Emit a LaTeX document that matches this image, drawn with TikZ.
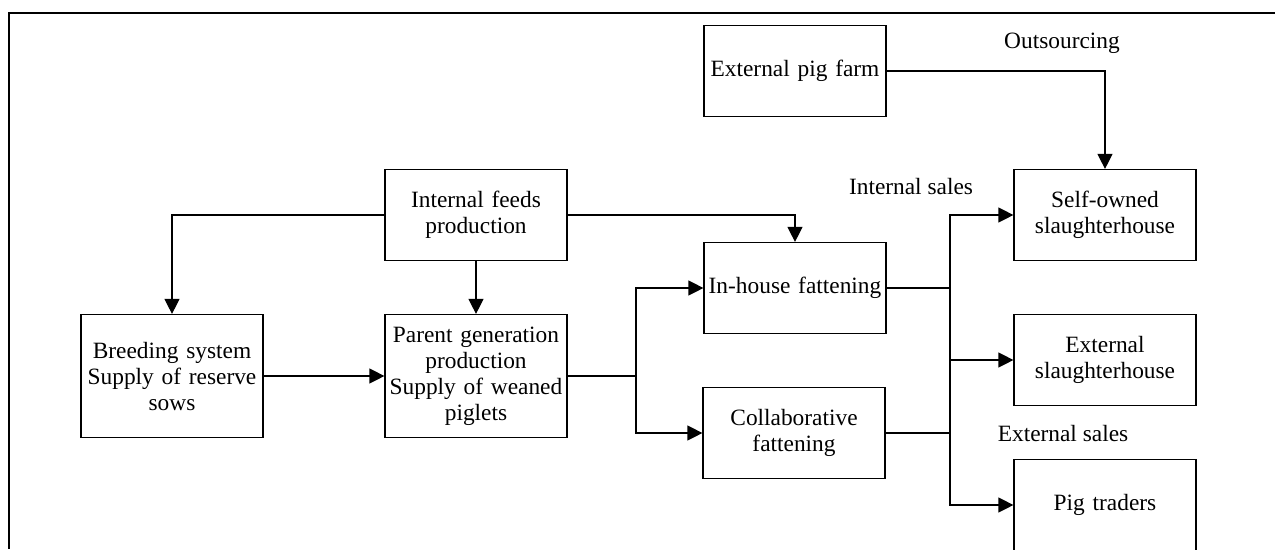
\documentclass[tikz,border=0pt]{standalone}
\usepackage{fontspec}
\setmainfont{Liberation Serif}
\usepackage{tikz}
\usetikzlibrary{arrows.meta,positioning}

\tikzset{
  box/.style={draw, line width=0.7pt, minimum width=3.64cm, minimum height=1.82cm,
    text width=3.6cm, align=center, inner sep=0.5pt, font=\fontsize{13.3}{14.8}\selectfont},
  tallbox/.style={box, minimum height=2.46cm},
  lbl/.style={font=\fontsize{13.3}{14.8}\selectfont, inner sep=1pt}
}

\begin{document}
\begin{tikzpicture}[x=0.02cm,y=-0.02cm,line width=0.7pt]
\useasboundingbox (0,0) rectangle (1275,549);
\draw (1275,13) -- (9,13) -- (9,549);

  \node[box]      (EF) at (795,71)   {External pig farm};
  \node[box]      (IF) at (476,215)  {Internal feeds\\production};
  \node[tallbox]  (BS) at (172,376)  {Breeding system\\Supply of reserve\\sows};
  \node[tallbox]  (PG) at (476,376)  {Parent generation\\production\\Supply of weaned\\piglets};
  \node[box]      (IH) at (795,288)  {In-house fattening};
  \node[box]      (CF) at (794,433)  {Collaborative\\fattening};
  \node[box]      (SO) at (1105,215) {Self-owned\\slaughterhouse};
  \node[box]      (ES) at (1105,360) {External\\slaughterhouse};
  \node[box]      (PT) at (1105,505) {Pig traders};

  \node[lbl]      (OS) at (1062,43)  {Outsourcing};
  \node[lbl]      (IS) at (911,186)  {Internal sales};
  \node[lbl]      (XS) at (1063,433) {External sales};

  \coordinate (S1) at (636,376);
  \coordinate (S2) at (950,288);

  \path[->,>={Triangle[length=8.5pt,width=8.5pt]}]
        (IF) edge              node {} (PG)
        (BS) edge              node {} (PG);
  \draw[->,>={Triangle[length=8.5pt,width=8.5pt]}] (IF.west) -| (BS.north);
  \draw[->,>={Triangle[length=8.5pt,width=8.5pt]}] (IF.east) -| (IH.north);
  \draw[->,>={Triangle[length=8.5pt,width=8.5pt]}] (EF.east) -| (SO.north);
  \draw[->,>={Triangle[length=8.5pt,width=8.5pt]}] (PG.east) -- (S1) |- (IH.west);
  \draw[->,>={Triangle[length=8.5pt,width=8.5pt]}] (S1) |- (CF.west);
  \draw[->,>={Triangle[length=8.5pt,width=8.5pt]}] (IH.east) -- (S2) |- (SO.west);
  \draw[->,>={Triangle[length=8.5pt,width=8.5pt]}] (S2) |- (ES.west);
  \draw[->,>={Triangle[length=8.5pt,width=8.5pt]}] (CF.east) -| (S2) |- (PT.west);

\end{tikzpicture}
\end{document}
